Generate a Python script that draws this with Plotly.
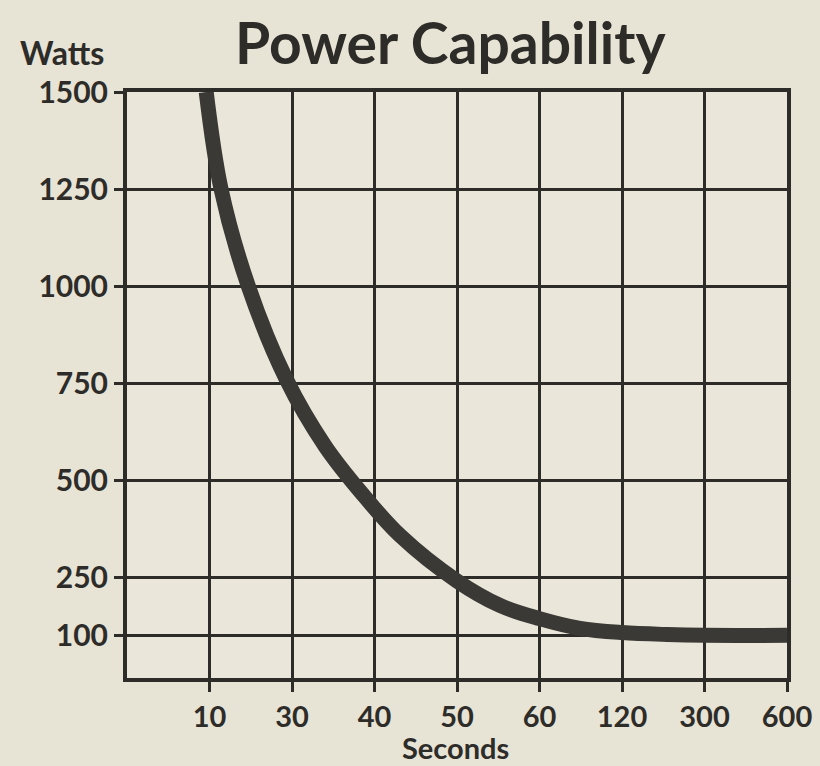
import plotly.graph_objects as go

# Category axis (evenly spaced seconds labels)
x_labels = ["10", "30", "40", "50", "60", "120", "300", "600"]
x_positions = [1, 2, 3, 4, 5, 6, 7, 8]

# Watts axis ticks
y_ticks = [100, 250, 500, 750, 1000, 1250, 1500]

# Curve (position along the category axis, watts)
curve_pos = [0.96, 1.14, 1.47, 1.93, 2.4, 2.85, 3.31, 4.0, 4.52, 5.0, 5.49, 6.0, 6.55, 7.0, 8.0]
curve_watts = [1500, 1250, 1000, 760, 588, 465, 357, 240, 177, 143, 118, 107, 102, 100, 100]

BG = "#e7e3d5"
INK = "#2d2c29"
FONT = "Lato"

fig = go.Figure()
fig.add_trace(go.Scatter(
    x=curve_pos, y=curve_watts, mode="lines",
    line=dict(color="#3a3935", width=15, shape="spline", smoothing=1.0),
    hoverinfo="skip", showlegend=False,
))

fig.update_layout(
    width=820, height=766,
    margin=dict(l=127, r=33, t=92, b=88),
    paper_bgcolor=BG, plot_bgcolor="#eae7da",
    showlegend=False,
    font=dict(family=FONT, color=INK),
    xaxis=dict(
        range=[0, 8], tickvals=x_positions, ticktext=x_labels,
        showgrid=True, gridcolor=INK, gridwidth=3,
        showline=True, linecolor=INK, linewidth=4, mirror=True,
        ticks="outside", ticklen=10, tickwidth=3, tickcolor=INK,
        tickfont=dict(family=FONT, size=29, color=INK, weight="bold"),
        zeroline=False, automargin=False,
    ),
    yaxis=dict(
        range=[-10, 1500], tickvals=y_ticks,
        showgrid=True, gridcolor=INK, gridwidth=3,
        showline=True, linecolor=INK, linewidth=4, mirror=True,
        ticks="outside", ticklen=9, tickwidth=3, tickcolor=INK,
        tickfont=dict(family=FONT, size=30, color=INK, weight="bold"),
        zeroline=False, automargin=False,
    ),
    annotations=[
        dict(text="Power Capability", xref="paper", yref="paper", x=0.49, y=1.085,
             xanchor="center", yanchor="middle", showarrow=False,
             font=dict(family=FONT, size=57, color=INK, weight="bold")),
        dict(text="Watts", xref="paper", yref="paper", x=-0.098, y=1.068,
             xanchor="center", yanchor="middle", showarrow=False,
             font=dict(family=FONT, size=32, color=INK, weight="bold")),
        dict(text="Seconds", xref="paper", yref="paper", x=0.497, y=-0.118,
             xanchor="center", yanchor="middle", showarrow=False,
             font=dict(family=FONT, size=29, color=INK, weight="bold")),
    ],
)

fig.write_html(
    "out.html",
    config={"displayModeBar": False},
    post_script="document.body.style.margin='0';document.body.style.overflow='hidden';",
)
